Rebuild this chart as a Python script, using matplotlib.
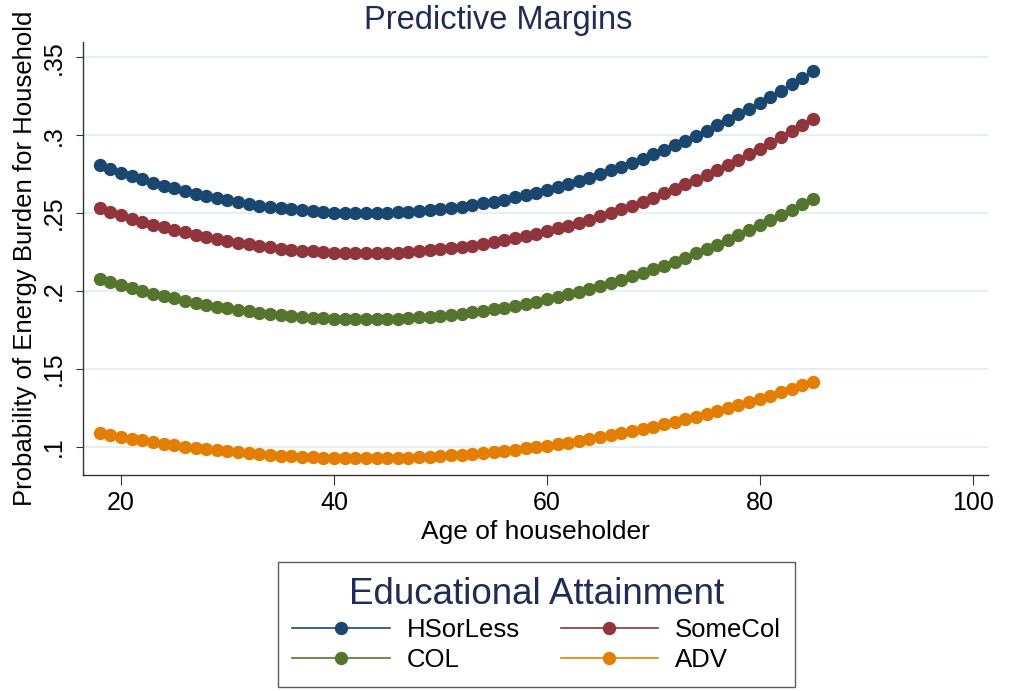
import numpy as np
import matplotlib
matplotlib.use('Agg')
import matplotlib.pyplot as plt
from matplotlib.lines import Line2D

plt.rcParams['font.family'] = ['Liberation Sans', 'DejaVu Sans']

# predicted probabilities by age of householder (18..85)
age = list(range(18, 86))

hs_or_less = [
    .2807, .2783, .2760, .2738, .2717, .2696, .2677, .2659, .2642, .2626,
    .2611, .2596, .2583, .2571, .2559, .2549, .2540, .2531, .2524, .2518,
    .2512, .2508, .2504, .2502, .2500, .2500, .2501, .2502, .2505, .2508,
    .2513, .2519, .2525, .2533, .2542, .2552, .2563, .2574, .2587, .2601,
    .2616, .2632, .2649, .2668, .2687, .2707, .2728, .2750, .2774, .2798,
    .2823, .2850, .2877, .2905, .2935, .2965, .2997, .3029, .3063, .3098,
    .3133, .3170, .3208, .3247, .3286, .3327, .3369, .3412,
]
some_col = [
    .2530, .2507, .2486, .2465, .2445, .2427, .2409, .2392, .2376, .2361,
    .2346, .2333, .2321, .2309, .2299, .2289, .2280, .2272, .2266, .2260,
    .2255, .2250, .2247, .2245, .2243, .2243, .2243, .2245, .2247, .2251,
    .2255, .2261, .2267, .2274, .2283, .2292, .2302, .2314, .2326, .2339,
    .2353, .2368, .2385, .2402, .2420, .2439, .2459, .2480, .2502, .2525,
    .2549, .2574, .2600, .2627, .2655, .2684, .2714, .2745, .2777, .2809,
    .2843, .2878, .2914, .2951, .2988, .3027, .3067, .3107,
]
col = [
    .2077, .2057, .2037, .2019, .2001, .1984, .1968, .1953, .1939, .1925,
    .1912, .1901, .1889, .1879, .1870, .1861, .1853, .1846, .1840, .1835,
    .1830, .1827, .1824, .1822, .1820, .1820, .1820, .1822, .1824, .1827,
    .1831, .1836, .1842, .1848, .1856, .1864, .1873, .1883, .1894, .1906,
    .1919, .1932, .1947, .1962, .1979, .1996, .2014, .2033, .2052, .2073,
    .2094, .2117, .2140, .2164, .2189, .2215, .2242, .2270, .2298, .2327,
    .2358, .2389, .2421, .2454, .2488, .2522, .2558, .2594,
]
adv = [
    .1090, .1077, .1065, .1053, .1042, .1032, .1021, .1012, .1003, .0994,
    .0986, .0979, .0972, .0965, .0959, .0954, .0949, .0945, .0941, .0937,
    .0934, .0932, .0930, .0929, .0928, .0928, .0928, .0929, .0930, .0932,
    .0935, .0938, .0942, .0946, .0950, .0956, .0962, .0968, .0975, .0982,
    .0991, .0999, .1008, .1018, .1028, .1039, .1051, .1063, .1075, .1088,
    .1102, .1116, .1131, .1146, .1162, .1178, .1195, .1213, .1231, .1249,
    .1269, .1288, .1309, .1329, .1351, .1373, .1395, .1418,
]

labels = ['HSorLess', 'SomeCol', 'COL', 'ADV']
colors = ['#1a476f', '#90353b', '#55752f', '#e37e00']
series = [hs_or_less, some_col, col, adv]

y_ticks = [.1, .15, .2, .25, .3, .35]
y_ticklabels = ['.1', '.15', '.2', '.25', '.3', '.35']
x_ticks = [20, 40, 60, 80, 100]

navy = '#1f2d56'
axis_col = '#333333'

fig = plt.figure(figsize=(10.11, 6.91), dpi=100)
ax = fig.add_axes([0.0824, 0.313, 0.8949, 0.6262])

for vals, c in zip(series, colors):
    ax.plot(age, vals, color=c, lw=1.0, marker='o', ms=9.6,
            markeredgewidth=0, zorder=3)

ax.set_xlim(16.46, 101.44)
ax.set_ylim(.0822, .3598)
ax.set_yticks(y_ticks)
ax.set_yticklabels(y_ticklabels, rotation=90, va='center')
ax.set_xticks(x_ticks)
ax.grid(axis='y', color='#e6eff1', lw=1.4, zorder=0)
ax.set_axisbelow(True)

for s in ['top', 'right']:
    ax.spines[s].set_visible(False)
for s in ['left', 'bottom']:
    ax.spines[s].set_color(axis_col)
    ax.spines[s].set_linewidth(1.0)

ax.tick_params(axis='x', length=7, width=0.8, color=axis_col, pad=5,
               labelsize=18)
ax.tick_params(axis='y', length=5, width=0.8, color=axis_col, pad=8,
               labelsize=18)

ax.set_xlabel('Age of householder', fontsize=19, labelpad=3)
ax.set_ylabel('Probability of Energy Burden for Household', fontsize=18.5,
              labelpad=3)

fig.text(0.493, 0.993, 'Predictive Margins', ha='center', va='top',
         fontsize=23.5, color=navy)

# legend fills column-wise, so order handles to read row by row
order = [0, 2, 1, 3]
handles = [Line2D([], [], color=colors[i], lw=1.2, marker='o', ms=9.6,
                  markeredgewidth=0) for i in order]
leg = fig.legend(handles, [labels[i] for i in order], ncol=2, loc='center',
                 bbox_to_anchor=(0.5307, 0.0963), fontsize=18.5,
                 title='Educational Attainment', title_fontsize=26.5,
                 frameon=True, fancybox=False, edgecolor='#333333',
                 handlelength=3.8, handletextpad=0.65, columnspacing=1.6,
                 labelspacing=0.25, borderpad=0.55)
leg.get_title().set_color(navy)
leg.get_frame().set_linewidth(1.0)

fig.savefig('out.png', dpi=100)
